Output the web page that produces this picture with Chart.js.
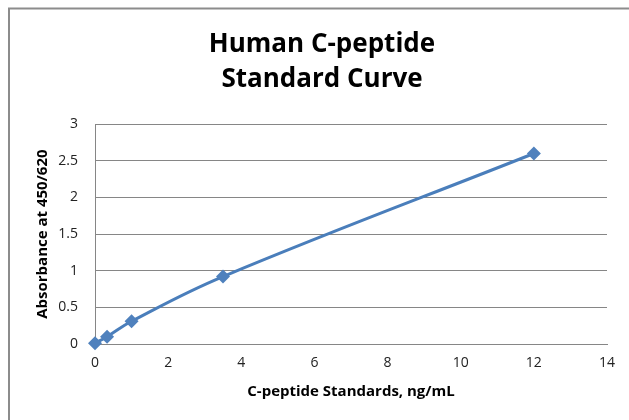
<!DOCTYPE html>
<html>
<head>
<meta charset="utf-8">
<script src="https://cdn.jsdelivr.net/npm/chart.js@4.4.0/dist/chart.umd.min.js"></script>
<style>
  html, body { margin: 0; padding: 0; background: #fff; }
  #wrap { width: 629px; height: 420px; position: relative; }
</style>
</head>
<body>
<div id="wrap"><canvas id="chart" width="629" height="420"></canvas></div>
<script>
// standard concentrations (ng/mL) and measured absorbance
const concentrations = [0, 0.33, 1, 3.5, 12];
const absorbance = [0.01, 0.1, 0.31, 0.92, 2.6];
const titleLines = ['Human C-peptide', 'Standard Curve'];
const xTitle = 'C-peptide Standards, ng/mL';
const yTitle = 'Absorbance at 450/620';

const fontFamily = "'Open Sans', 'Liberation Sans', sans-serif";
const blue = '#4A7EBB';

// chart frame: only top and left edge are visible in the picture
const framePlugin = {
  id: 'frame',
  beforeDraw(chart) {
    const c = chart.ctx;
    c.save();
    c.strokeStyle = '#8c8c8c';
    c.lineWidth = 2;
    c.beginPath();
    c.moveTo(9, 420);
    c.lineTo(9, 8.5);
    c.lineTo(629, 8.5);
    c.stroke();
    c.restore();
  }
};

new Chart(document.getElementById('chart'), {
  type: 'scatter',
  data: {
    datasets: [{
      data: concentrations.map((x, i) => ({ x, y: absorbance[i] })),
      showLine: true,
      tension: 0.4,
      clip: false,
      borderColor: blue,
      borderWidth: 3,
      backgroundColor: '#4F81BD',
      pointStyle: 'rectRot',
      pointRadius: 7,
      pointBorderWidth: 0
    }]
  },
  options: {
    responsive: false,
    animation: false,
    // left padding is wider so the title sits where it does in the original (it was cropped)
    layout: { padding: { left: 37, right: 22, top: 0, bottom: 0 } },
    plugins: {
      legend: { display: false },
      tooltip: { enabled: false },
      title: {
        display: true,
        text: titleLines,
        color: '#000',
        font: { family: fontFamily, size: 26, weight: 'bold', lineHeight: 1.35 },
        padding: { top: 27, bottom: 27 }
      }
    },
    scales: {
      x: {
        type: 'linear',
        min: 0,
        max: 14,
        ticks: { stepSize: 2, color: '#222', padding: 11, font: { family: fontFamily, size: 14 } },
        grid: { display: false, drawTicks: false },
        border: { display: true, color: '#868686', width: 1 },
        title: {
          display: true,
          text: xTitle,
          color: '#000',
          font: { family: fontFamily, size: 15, weight: 'bold' },
          padding: { top: 0, bottom: 19 }
        },
        afterFit(scale) { scale.height = 76; }
      },
      y: {
        min: 0,
        max: 3,
        ticks: {
          stepSize: 0.5,
          color: '#222',
          padding: 17,
          font: { family: fontFamily, size: 14 },
          callback: v => String(v)
        },
        grid: { color: '#868686', drawTicks: false },
        border: { display: true, color: '#868686', width: 1 },
        title: {
          display: true,
          text: yTitle,
          color: '#000',
          font: { family: fontFamily, size: 15, weight: 'bold' },
          padding: { top: -3, bottom: 0 }
        },
        afterFit(scale) { scale.width = 58; }
      }
    }
  },
  plugins: [framePlugin]
});
</script>
</body>
</html>
